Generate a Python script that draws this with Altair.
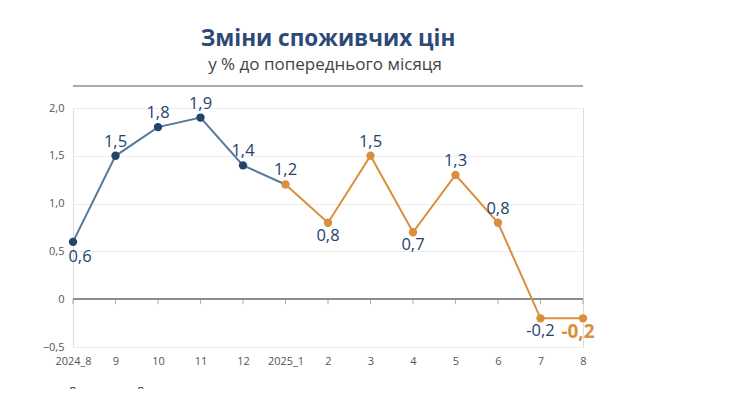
import altair as alt
import pandas as pd

months = ["2024_8", "9", "10", "11", "12", "2025_1", "2", "3", "4", "5", "6", "7", "8"]
values = [0.6, 1.5, 1.8, 1.9, 1.4, 1.2, 0.8, 1.5, 0.7, 1.3, 0.8, -0.2, -0.2]
labels = ["0,6", "1,5", "1,8", "1,9", "1,4", "1,2", "0,8", "1,5", "0,7", "1,3", "0,8", "-0,2", "-0,2"]
label_pos = ["below", "above", "above", "above", "above", "above", "below",
             "above", "below", "above", "above", "below", "last"]
series = ["blue"] * 5 + ["orange"] * 8
y_ticks = [-0.5, 0, 0.5, 1.0, 1.5, 2.0]

BLUE_LINE = "#557a9e"
BLUE_DARK = "#23446b"
ORANGE = "#d98f3e"

df = pd.DataFrame({"m": months, "v": values, "lab": labels, "pos": label_pos, "s": series})
df_blue_line = df.iloc[0:6]
df_orange_line = df.iloc[5:]

W, H = 510, 239

x_enc = alt.X("m:N", sort=months, scale=alt.Scale(type="point", padding=0, domain=months),
              axis=alt.Axis(title=None, domain=False, ticks=False, labelAngle=0,
                            labelFont="Open Sans", labelFontSize=11, labelColor="#555",
                            labelPadding=8, grid=False))
y_enc = alt.Y("v:Q", scale=alt.Scale(domain=[-0.5, 2.0], nice=False, zero=False),
              axis=alt.Axis(title=None, domain=False, ticks=False, values=y_ticks,
                            labelExpr="datum.value == 0 ? '0' : replace(format(datum.value, '.1f'), '.', ',')",
                            labelFont="Open Sans", labelFontSize=11, labelColor="#555",
                            labelPadding=9, grid=True, gridColor="#eeeeee", gridWidth=1))

base = alt.Chart(df)

grid = base.mark_point(opacity=0).encode(x=x_enc, y=y_enc)

zero_line = base.mark_rule(color="#8c8c8c", strokeWidth=1.2).encode(
    y=alt.datum(0), x=alt.value(0), x2=alt.value(W))
zero_ticks = base.mark_tick(color="#8c8c8c", orient="vertical", size=5, thickness=1, yOffset=2.5).encode(
    x=alt.X("m:N", sort=months), y=alt.datum(0))

line_blue = alt.Chart(df_blue_line).mark_line(color=BLUE_LINE, strokeWidth=2).encode(
    x=alt.X("m:N", sort=months), y="v:Q")
line_orange = alt.Chart(df_orange_line).mark_line(color=ORANGE, strokeWidth=2).encode(
    x=alt.X("m:N", sort=months), y="v:Q")

pts = base.mark_circle(size=70, opacity=1).encode(
    x=alt.X("m:N", sort=months), y="v:Q",
    color=alt.Color("s:N", scale=alt.Scale(domain=["blue", "orange"], range=[BLUE_DARK, ORANGE]), legend=None))

lab_font = "Open Sans"
lab_size = 16.5
above = base.transform_filter("datum.pos == 'above'").mark_text(
    font=lab_font, fontSize=lab_size, fontWeight=500, color=BLUE_DARK, dy=-14).encode(
    x=alt.X("m:N", sort=months), y="v:Q", text="lab:N")
below = base.transform_filter("datum.pos == 'below' && datum.m != '2024_8'").mark_text(
    font=lab_font, fontSize=lab_size, fontWeight=500, color=BLUE_DARK, dy=13).encode(
    x=alt.X("m:N", sort=months), y="v:Q", text="lab:N")
first = base.transform_filter("datum.m == '2024_8'").mark_text(
    font=lab_font, fontSize=lab_size, fontWeight=500, color=BLUE_DARK, dy=15, dx=7).encode(
    x=alt.X("m:N", sort=months), y="v:Q", text="lab:N")
last = base.transform_filter("datum.pos == 'last'").mark_text(
    font=lab_font, fontSize=19, fontWeight="bold", color=ORANGE, dy=14, dx=-5).encode(
    x=alt.X("m:N", sort=months), y="v:Q", text="lab:N")

title = alt.Chart(pd.DataFrame({"t": ["Зміни споживчих цін"]})).mark_text(
    font="Open Sans", fontSize=22.5, fontWeight="bold", color="#2c4a75", baseline="middle").encode(
    x=alt.value(W / 2), y=alt.value(-69), text="t:N")
subtitle = alt.Chart(pd.DataFrame({"t": ["у % до попереднього місяця"]})).mark_text(
    font="Open Sans", fontSize=17, color="#444444", baseline="middle").encode(
    x=alt.value(W / 2 - 3), y=alt.value(-43), text="t:N")
title_rule = alt.Chart(pd.DataFrame({"a": [0]})).mark_rule(color="#aaaaaa", strokeWidth=2).encode(
    x=alt.value(0), x2=alt.value(W), y=alt.value(-22))
source = alt.Chart(pd.DataFrame({"t": ["Джерело: Держстат"]})).mark_text(
    font="Open Sans", fontSize=14, color="#555555", align="left", baseline="top").encode(
    x=alt.value(-6), y=alt.value(278), text="t:N")

chart = alt.layer(grid, zero_line, zero_ticks, line_blue, line_orange, pts,
                  above, below, first, last, title, subtitle, title_rule, source).properties(
    width=W, height=H,
    autosize=alt.AutoSizeParams(type="none"),
    padding={"left": 65, "top": 100, "right": 130, "bottom": 42},
).configure_view(stroke=None).configure(background="white")

chart.save("out.html", embed_options={"renderer": "svg", "actions": False})
